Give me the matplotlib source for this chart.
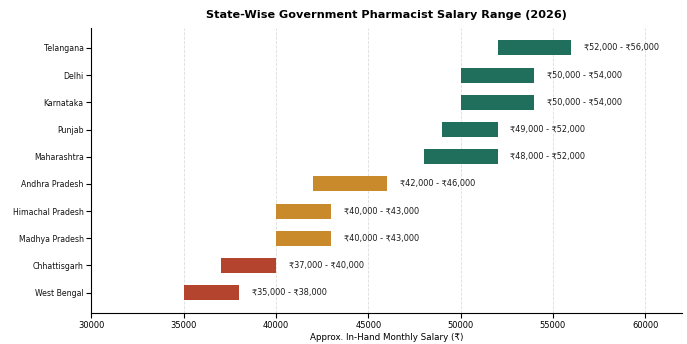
import matplotlib
matplotlib.use("Agg")
import matplotlib.pyplot as plt

states = ["West Bengal", "Chhattisgarh", "Madhya Pradesh", "Himachal Pradesh", "Andhra Pradesh",
          "Maharashtra", "Punjab", "Karnataka", "Delhi", "Telangana"]
low = [35000, 37000, 40000, 40000, 42000, 48000, 49000, 50000, 50000, 52000]
high = [38000, 40000, 43000, 43000, 46000, 52000, 52000, 54000, 54000, 56000]
tiers = ["low", "low", "mid", "mid", "mid", "high", "high", "high", "high", "high"]
tier_colors = {"low": "#b5442e", "mid": "#c98a2b", "high": "#1f6f5c"}

fig, ax = plt.subplots(figsize=(6.87, 3.44), dpi=100)
fig.subplots_adjust(left=0.133, right=0.993, top=0.92, bottom=0.09)

ypos = list(range(len(states)))
widths = [h - l for l, h in zip(low, high)]
ax.barh(ypos, widths, left=low, height=0.55, color=[tier_colors[t] for t in tiers], zorder=3)
for y, l, h in zip(ypos, low, high):
    ax.text(h + 700, y, f"₹{l:,} - ₹{h:,}", va="center", ha="left", fontsize=5.9, color="#1a1a1a")

ax.set_yticks(ypos)
ax.set_yticklabels(states, fontsize=5.6, color="#111111")
ax.set_xlim(30000, 62000)
ax.set_xticks([30000, 35000, 40000, 45000, 50000, 55000, 60000])
ax.tick_params(axis="x", labelsize=6.0, pad=2.5)
ax.tick_params(axis="y", pad=2)
ax.set_xlabel("Approx. In-Hand Monthly Salary (₹)", fontsize=6.3, labelpad=2)
ax.set_title("State-Wise Government Pharmacist Salary Range (2026)", fontsize=8.1, fontweight="bold", pad=7)
ax.grid(axis="x", linestyle="--", color="#dddddd", linewidth=0.6, zorder=0)
ax.spines["top"].set_visible(False)
ax.spines["right"].set_visible(False)

fig.savefig("out.png", dpi=100)
